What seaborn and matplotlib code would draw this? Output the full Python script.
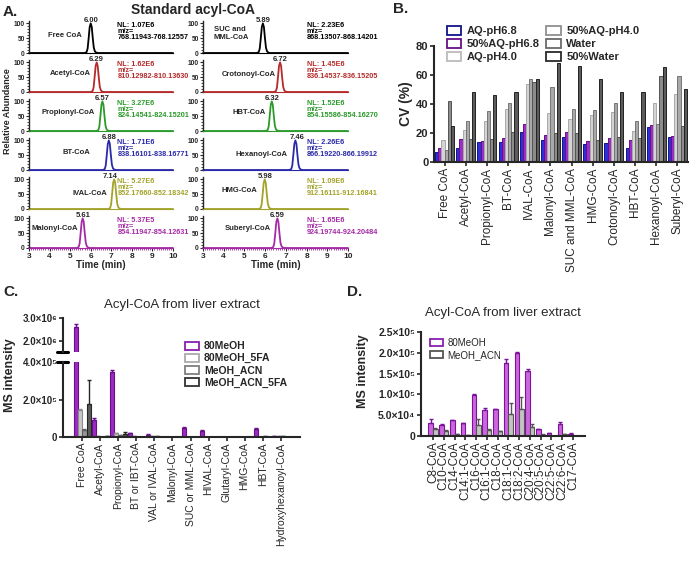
import matplotlib
matplotlib.use('Agg')
import matplotlib.pyplot as plt
import seaborn as sns
import pandas as pd
import numpy as np
from matplotlib.patches import Patch
from matplotlib.ticker import MultipleLocator

sns.set_style('ticks')
plt.rcParams['font.family'] = ['Liberation Sans', 'DejaVu Sans']

# ---------------- data ----------------
# A: standard acyl-CoA chromatograms
a_left_names = ['Free CoA', 'Acetyl-CoA', 'Propionyl-CoA', 'BT-CoA', 'IVAL-CoA', 'Malonyl-CoA']
a_left_rt = [6.00, 6.29, 6.57, 6.88, 7.14, 5.61]
a_left_nl = ['1.07E6', '1.62E6', '3.27E6', '1.71E6', '5.27E6', '5.37E5']
a_left_mz = ['768.11943-768.12557', '810.12982-810.13630', '824.14541-824.15201',
             '838.16101-838.16771', '852.17660-852.18342', '854.11947-854.12631']
a_right_names = ['SUC and\nMML-CoA', 'Crotonoyl-CoA', 'HBT-CoA', 'Hexanoyl-CoA', 'HMG-CoA', 'Suberyl-CoA']
a_right_rt = [5.89, 6.72, 6.32, 7.46, 5.98, 6.59]
a_right_nl = ['2.23E6', '1.45E6', '1.52E6', '2.26E6', '1.09E6', '1.65E6']
a_right_mz = ['868.13507-868.14201', '836.14537-836.15205', '854.15586-854.16270',
              '866.19220-866.19912', '912.16111-912.16841', '924.19744-924.20484']
# peak profile (min from apex, relative abundance)
peak_offset = [-0.30, -0.20, -0.15, -0.10, -0.05, 0.0, 0.05, 0.10, 0.15, 0.20, 0.25, 0.35]
peak_shape = [0, 3, 15, 50, 88, 100, 88, 50, 18, 6, 2, 0]
time_range = [3, 10]

# B: CV of standards
b_categories = ['Free CoA', 'Acetyl-CoA', 'Propionyl-CoA', 'BT-CoA', 'IVAL-CoA', 'Malonyl-CoA',
                'SUC and MML-CoA', 'HMG-CoA', 'Crotonoyl-CoA', 'HBT-CoA', 'Hexanoyl-CoA', 'Suberyl-CoA']
b_series = ['AQ-pH6.8', '50%AQ-pH6.8', 'AQ-pH4.0', '50%AQ-pH4.0', 'Water', '50%Water']
b_aq68 = [7, 10, 14, 14, 21, 15, 17, 12.5, 13, 9.5, 24, 17]
b_50aq68 = [9.5, 16, 14.5, 16.5, 26, 18.5, 21, 14.5, 16.5, 15, 25.5, 18]
b_aq40 = [15, 22, 28.5, 36.5, 54, 34, 30, 32.5, 34.5, 21.5, 41, 47]
b_50aq40 = [8.5, 28, 35.5, 40.5, 57.5, 51.5, 36.5, 36, 40.5, 28, 26, 59.5]
b_water = [42, 16, 16, 21, 55, 20, 20, 15, 17, 16.5, 59.5, 25]
b_50water = [25, 48.5, 46, 48.5, 57.5, 68.5, 66.5, 57, 48.5, 48.5, 65.5, 50]

# C: short-chain acyl-CoA from liver
c_categories = ['Free CoA', 'Acetyl-CoA', 'Propionyl-CoA', 'BT or IBT-CoA', 'VAL or IVAL-CoA',
                'Malonyl-CoA', 'SUC or MML-CoA', 'HIVAL-CoA', 'Glutaryl-CoA', 'HMG-CoA',
                'HBT-CoA', 'Hydroxyhexanoyl-CoA']
c_series = ['80MeOH', '80MeOH_5FA', 'MeOH_ACN', 'MeOH_ACN_5FA']
c_80meoh = [2.6e6, 9.0e4, 3.45e5, 2.2e4, 1.2e4, 1.5e3, 5.0e4, 3.2e4, 1.0e3, 1.5e3, 4.3e4, 3.0e3]
c_80meoh_sd = [1.5e5, 1.0e4, 1.0e4, 2e3, 2e3, 0, 4e3, 3e3, 0, 0, 4e3, 0]
c_80meoh_5fa = [1.42e5, 5e3, 2.0e4, 3e3, 5e3, 1e3, 2e3, 2e3, 1e3, 2e3, 2e3, 3e3]
c_80meoh_5fa_sd = [6e3, 0, 2e3, 0, 0, 0, 0, 0, 0, 0, 0, 0]
c_meoh_acn = [4.0e4, 2e3, 1.0e4, 2e3, 3e3, 1e3, 1e3, 2e3, 1e3, 1e3, 3e3, 3e3]
c_meoh_acn_sd = [2e3, 0, 1e3, 0, 0, 0, 0, 0, 0, 0, 0, 0]
c_meoh_acn_5fa = [1.75e5, 5e3, 1.5e4, 2e3, 2e3, 1e3, 1e3, 2e3, 2e3, 1e3, 2e3, 2e3]
c_meoh_acn_5fa_sd = [1.3e5, 0, 1.0e4, 0, 0, 0, 0, 0, 0, 0, 0, 0]

# D: long-chain acyl-CoA from liver
d_categories = ['C8-CoA', 'C10-CoA', 'C14-CoA', 'C14:1-CoA', 'C16-CoA', 'C16:1-CoA', 'C18-CoA',
                'C18:1-CoA', 'C18:2-CoA', 'C20:4-CoA', 'C20:5-CoA', 'C22:5-CoA', 'C22:6-CoA', 'C17-CoA']
d_series = ['80MeOH', 'MeOH_ACN']
d_80meoh = [31e3, 26e3, 38e3, 31e3, 98e3, 63e3, 65e3, 175e3, 200e3, 156e3, 16e3, 7e3, 30e3, 6e3]
d_80meoh_sd = [9e3, 3e3, 1e3, 1e3, 4e3, 5e3, 1e3, 10e3, 2e3, 4e3, 1e3, 1e3, 4e3, 1e3]
d_meoh_acn = [16e3, 12e3, 5e3, 3e3, 27e3, 14e3, 11e3, 54e3, 66e3, 22e3, 3e3, 1e3, 4e3, 0.5e3]
d_meoh_acn_sd = [4e3, 2e3, 1e3, 0, 13e3, 4e3, 2e3, 26e3, 28e3, 8e3, 1e3, 0, 1e3, 0]

# ---------------- styles ----------------
row_colors = ['black', '#b52a2a', '#2a9a2a', '#2a2aa8', '#a3a32a', '#a52aa5']
left_name_x = [5.57, 6.0, 6.2, 6.0, 6.8, 5.4]
left_name_y = [60, 61, 63, 60, 52, 66]
left_rt_dx = [0, 0, 0, 0, -0.22, 0]
right_name_x = [5.22, 6.53, 6.04, 7.1, 5.6, 6.3]
right_name_y = [67, 58, 62, 53, 64, 66]
right_rt_dx = [0, 0, 0, 0.1, 0, 0]

b_fill = ['#2f2fd8', '#9b2fc4', '#d4d4d4', '#a9a9a9', '#8c8c8c', '#5c5c5c']
b_edge = ['#12128a', '#661088', '#a8a8a8', '#767676', '#545454', '#222222']
c_fill = ['#9a2cbf', '#c8c8c8', '#969696', '#5a5a5a']
c_edge = ['#6a0f8c', '#8c8c8c', '#606060', '#262626']
d_fill = ['#cc66dd', '#c4c4c4']
d_edge = ['#7c149a', '#555555']

W, H = 696, 567
fig = plt.figure(figsize=(W / 100, H / 100), dpi=100)


def add_ax(l, t, r, b):
    return fig.add_axes([l / W, 1 - b / H, (r - l) / W, (b - t) / H])


def long_df(cats, series, values):
    rows = [(c, s, v) for s, vals in zip(series, values) for c, v in zip(cats, vals)]
    return pd.DataFrame(rows, columns=['cat', 'series', 'val'])


# ---------------- panel A ----------------
def chrom(ax, rt, color, name, nx, ny, rdx, nl, mz, tx, last):
    xs = [time_range[0]] + [rt + o for o in peak_offset] + [time_range[1]]
    ys = [0] + peak_shape + [0]
    sns.lineplot(x=xs, y=ys, color=color, linewidth=1.3, ax=ax, sort=False)
    for ln in ax.lines:
        ln.set_clip_on(False)
    ax.set_xlim(*time_range)
    ax.set_ylim(0, 108)
    sns.despine(ax=ax)
    ax.spines['bottom'].set_color(color)
    ax.spines['left'].set_linewidth(1)
    ax.set_yticks([0, 50, 100])
    ax.yaxis.set_minor_locator(MultipleLocator(10))
    ax.tick_params(axis='y', which='major', labelsize=4.8, length=2.5, width=0.8, pad=0.5)
    ax.tick_params(axis='y', which='minor', length=1.2, width=0.6)
    for lb in ax.get_yticklabels():
        lb.set_fontweight('bold')
    if last:
        ax.set_xticks(range(3, 11))
        ax.xaxis.set_minor_locator(MultipleLocator(0.1))
        ax.tick_params(axis='x', which='major', labelsize=6, length=2.5, width=0.8, pad=1)
        ax.tick_params(axis='x', which='minor', length=1.5, width=0.6, color=color)
        for lb in ax.get_xticklabels():
            lb.set_fontweight('bold')
        ax.set_xlabel('Time (min)', fontsize=7, fontweight='bold', labelpad=0)
    else:
        ax.set_xticks([])
    ax.text(nx, ny, name, ha='right', va='center', fontsize=5.5, fontweight='bold',
            multialignment='left', linespacing=1.2)
    ax.text(rt + rdx, 97, f'{rt:.2f}', ha='center', va='bottom', fontsize=5.5, fontweight='bold',
            clip_on=False)
    for yy, s in zip([94, 72, 51], ['NL: ' + nl, 'm/z=', mz]):
        ax.text(tx, yy, s, ha='left', va='center', fontsize=5.2, fontweight='bold',
                color=color, clip_on=False)


for i in range(6):
    bot = 53 + 39 * i
    axl = add_ax(29, bot - 32, 173, bot)
    chrom(axl, a_left_rt[i], row_colors[i], a_left_names[i], left_name_x[i], left_name_y[i],
          left_rt_dx[i], a_left_nl[i], a_left_mz[i], 7.3, i == 5)
    axr = add_ax(203, bot - 32, 348, bot)
    chrom(axr, a_right_rt[i], row_colors[i], a_right_names[i], right_name_x[i], right_name_y[i],
          right_rt_dx[i], a_right_nl[i], a_right_mz[i], 8.0, i == 5)

fig.text(3 / W, 1 - 12 / H, 'A.', fontsize=11, fontweight='bold', va='center')
fig.text(193 / W, 1 - 10 / H, 'Standard acyl-CoA', fontsize=10, fontweight='bold',
         ha='center', va='center')
fig.text(8 / W, 1 - 111 / H, 'Relative Abundance', fontsize=6.5, fontweight='bold',
         rotation=90, ha='center', va='center')


def style_bar_axes(ax, xlabsize, ylabsize, ybold=True):
    sns.despine(ax=ax)
    for sp in ['left', 'bottom']:
        ax.spines[sp].set_linewidth(1.5)
    ax.tick_params(axis='both', length=3, width=1.2)
    ax.tick_params(axis='x', labelsize=xlabsize, rotation=90, pad=1)
    ax.tick_params(axis='y', labelsize=ylabsize, pad=1)
    if ybold:
        for lb in ax.get_yticklabels():
            lb.set_fontweight('bold')
    ax.set_xlabel('')


def add_errors(ax, sds, colors):
    for cont, sd, col in zip(ax.containers, sds, colors):
        xc = [p.get_x() + p.get_width() / 2 for p in cont]
        hs = [p.get_height() for p in cont]
        ax.errorbar(xc, hs, yerr=[np.zeros(len(sd)), sd], fmt='none', ecolor=col,
                    elinewidth=1, capsize=1.2, capthick=1)


# ---------------- panel B ----------------
axB = add_ax(434, 46, 688, 162)
df_b = long_df(b_categories, b_series, [b_aq68, b_50aq68, b_aq40, b_50aq40, b_water, b_50water])
sns.barplot(data=df_b, x='cat', y='val', hue='series', palette=b_fill, saturation=1,
            width=0.9, errorbar=None, legend=False, ax=axB, linewidth=0.7)
for cont, ec in zip(axB.containers, b_edge):
    for p in cont:
        p.set_edgecolor(ec)
axB.set_ylim(0, 80)
axB.set_yticks([0, 20, 40, 60, 80])
style_bar_axes(axB, 8.5, 8)
axB.set_ylabel('CV (%)', fontsize=10, fontweight='bold', labelpad=2)
fig.legend([Patch(facecolor='white', edgecolor=c, linewidth=1.3) for c in b_edge[:2] + ['#bbbbbb', '#909090', '#6a6a6a', '#2a2a2a']],
           b_series, loc='upper left', bbox_to_anchor=(441 / W, 1 - 20 / H), ncol=2,
           frameon=False, prop={'size': 8, 'weight': 'bold'}, handlelength=1.3, handleheight=0.9,
           labelspacing=0.25, columnspacing=0.6, handletextpad=0.5, borderpad=0)
fig.text(393 / W, 1 - 9 / H, 'B.', fontsize=11, fontweight='bold', va='center')

# ---------------- panel C ----------------
df_c = long_df(c_categories, c_series, [c_80meoh, c_80meoh_5fa, c_meoh_acn, c_meoh_acn_5fa])
c_sds = [c_80meoh_sd, c_80meoh_5fa_sd, c_meoh_acn_sd, c_meoh_acn_5fa_sd]
axCt = add_ax(63, 318, 300, 352)
axCb = add_ax(63, 362, 300, 437)
for ax in (axCt, axCb):
    sns.barplot(data=df_c, x='cat', y='val', hue='series', palette=c_fill, saturation=1,
                width=0.95, errorbar=None, legend=False, ax=ax, linewidth=0.8)
    for cont, ec in zip(ax.containers, c_edge):
        for p in cont:
            p.set_edgecolor(ec)
    add_errors(ax, c_sds, c_edge)
axCt.set_ylim(1.5e6, 3.0e6)
axCt.set_yticks([2e6, 3e6], ['2.0×10⁶', '3.0×10⁶'])
axCb.set_ylim(0, 4e5)
axCb.set_yticks([0, 2e5, 4e5], ['0', '2.0×10⁵', '4.0×10⁵'])
style_bar_axes(axCb, 7.5, 7)
style_bar_axes(axCt, 7.5, 7)
axCt.spines['bottom'].set_visible(False)
axCt.tick_params(axis='x', bottom=False, labelbottom=False)
axCt.set_ylabel('')
axCb.set_ylabel('')
axCt.plot([-0.025, 0.02], [0, 0], transform=axCt.transAxes, color='black', lw=2.2, clip_on=False)
axCb.plot([-0.025, 0.02], [1, 1], transform=axCb.transAxes, color='black', lw=2.2, clip_on=False)
fig.text(10 / W, 1 - 375 / H, 'MS intensity', fontsize=9, fontweight='bold', rotation=90,
         ha='center', va='center')
fig.text(182 / W, 1 - 305 / H, 'Acyl-CoA from liver extract', fontsize=9.5, ha='center', va='center')
fig.text(3 / W, 1 - 292 / H, 'C.', fontsize=11, fontweight='bold', va='center')
fig.legend([Patch(facecolor='white', edgecolor=c, linewidth=1.3) for c in ['#8a1fb0', '#aaaaaa', '#808080', '#333333']],
           c_series, loc='upper left', bbox_to_anchor=(180 / W, 1 - 336 / H), ncol=1,
           frameon=False, prop={'size': 7.5, 'weight': 'bold'}, handlelength=1.3, handleheight=0.8,
           labelspacing=0.2, handletextpad=0.5, borderpad=0)

# ---------------- panel D ----------------
axD = add_ax(421, 332, 585, 436)
df_d = long_df(d_categories, d_series, [d_80meoh, d_meoh_acn])
sns.barplot(data=df_d, x='cat', y='val', hue='series', palette=d_fill, saturation=1,
            width=0.85, errorbar=None, legend=False, ax=axD, linewidth=0.8)
for cont, ec in zip(axD.containers, d_edge):
    for p in cont:
        p.set_edgecolor(ec)
add_errors(axD, [d_80meoh_sd, d_meoh_acn_sd], d_edge)
axD.set_ylim(0, 2.5e5)
axD.set_yticks([0, 5e4, 1e5, 1.5e5, 2e5, 2.5e5],
               ['0', '5.0×10⁴', '1.0×10⁵', '1.5×10⁵', '2.0×10⁵', '2.5×10⁵'])
style_bar_axes(axD, 8.5, 7.5)
axD.set_ylabel('')
fig.text(363 / W, 1 - 371 / H, 'MS intensity', fontsize=9, fontweight='bold', rotation=90,
         ha='center', va='center')
fig.text(503 / W, 1 - 313 / H, 'Acyl-CoA from liver extract', fontsize=9.5, ha='center', va='center')
fig.text(347 / W, 1 - 292 / H, 'D.', fontsize=11, fontweight='bold', va='center')
fig.legend([Patch(facecolor='white', edgecolor=c, linewidth=1.3) for c in ['#8a1fb0', '#555555']],
           d_series, loc='upper left', bbox_to_anchor=(425 / W, 1 - 333 / H), ncol=1,
           frameon=False, prop={'size': 7}, handlelength=1.3, handleheight=0.8,
           labelspacing=0.2, handletextpad=0.5, borderpad=0)

fig.savefig('out.png', dpi=100)
